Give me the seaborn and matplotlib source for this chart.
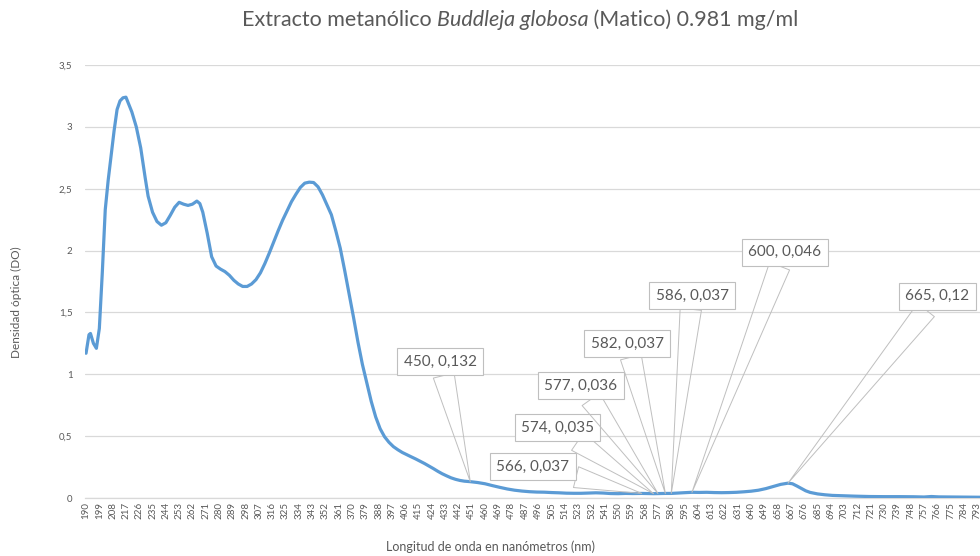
import matplotlib
matplotlib.use("Agg")
import matplotlib.pyplot as plt
import seaborn as sns
import pandas as pd

# ---- data ----
wavelength = [190, 192, 193, 195, 197, 199, 201, 203, 205, 207, 209, 211, 213, 215, 217, 219,
              221, 224, 227, 230, 232, 235, 238, 241, 244, 247, 250, 253, 256, 259, 262, 265,
              267, 269, 272, 275, 278, 281, 284, 287, 290, 293, 296, 299, 302, 305, 308, 311,
              314, 317, 320, 323, 326, 329, 332, 335, 338, 341, 344, 347, 350, 353, 356, 359,
              362, 365, 368, 371, 374, 377, 380, 383, 386, 389, 392, 395, 398, 401, 404, 407,
              410, 413, 416, 419, 422, 425, 428, 431, 434, 437, 440, 443, 446, 450, 455, 460,
              465, 470, 475, 480, 485, 490, 495, 500, 505, 510, 515, 520, 525, 530, 535, 540,
              545, 550, 555, 560, 566, 570, 574, 577, 582, 586, 590, 595, 600, 605, 610, 615,
              620, 625, 630, 635, 640, 645, 650, 655, 660, 665, 668, 671, 674, 677, 680, 685,
              690, 695, 700, 710, 720, 730, 740, 750, 757, 762, 767, 775, 785, 796]
absorbance = [1.17, 1.32, 1.33, 1.25, 1.21, 1.37, 1.82, 2.33, 2.57, 2.77, 2.97, 3.14, 3.21, 3.235, 3.24, 3.18,
              3.12, 3.00, 2.83, 2.59, 2.44, 2.31, 2.235, 2.205, 2.225, 2.285, 2.35, 2.39, 2.375, 2.365, 2.375, 2.40,
              2.38, 2.31, 2.14, 1.95, 1.875, 1.85, 1.83, 1.80, 1.76, 1.73, 1.71, 1.71, 1.73, 1.765, 1.82, 1.895,
              1.98, 2.07, 2.16, 2.245, 2.32, 2.395, 2.455, 2.51, 2.545, 2.553, 2.55, 2.515, 2.45, 2.37, 2.29, 2.16,
              2.02, 1.84, 1.65, 1.46, 1.26, 1.08, 0.93, 0.78, 0.655, 0.56, 0.495, 0.45, 0.415, 0.39, 0.368, 0.35,
              0.333, 0.316, 0.298, 0.279, 0.259, 0.238, 0.216, 0.196, 0.179, 0.163, 0.151, 0.142, 0.136, 0.132, 0.125, 0.115,
              0.10, 0.086, 0.073, 0.063, 0.056, 0.051, 0.048, 0.047, 0.044, 0.042, 0.039, 0.038, 0.038, 0.040, 0.042, 0.040,
              0.036, 0.035, 0.037, 0.036, 0.037, 0.036, 0.035, 0.036, 0.037, 0.037, 0.040, 0.043, 0.046, 0.045, 0.046, 0.044,
              0.043, 0.044, 0.046, 0.050, 0.055, 0.063, 0.076, 0.093, 0.110, 0.120, 0.115, 0.097, 0.077, 0.058, 0.045, 0.033,
              0.026, 0.021, 0.019, 0.015, 0.012, 0.011, 0.011, 0.010, 0.008, 0.012, 0.009, 0.008, 0.007, 0.006]

ann_nm = [450, 566, 574, 577, 582, 586, 600, 665]
ann_val = [0.132, 0.037, 0.035, 0.036, 0.037, 0.037, 0.046, 0.12]

x_tick_labels = list(range(190, 800, 9))
y_ticks = [0, 0.5, 1, 1.5, 2, 2.5, 3, 3.5]

title_parts = ["Extracto metanólico ", "Buddleja globosa", " (Matico) 0.981 mg/ml"]
xlabel = "Longitud de onda en nanómetros (nm)"
ylabel = "Densidad óptica (DO)"

# ---- style ----
sns.set_style("white")
plt.rcParams["font.family"] = ["Lato", "DejaVu Sans"]
GRAY = "#595959"
GRID = "#d9d9d9"
BLUE = "#5B9BD5"

W, H = 980, 556
fig = plt.figure(figsize=(W / 100, H / 100), dpi=100)
ax = fig.add_axes([85 / W, 1 - 498 / H, (W - 85) / W, (498 - 65) / H])

df = pd.DataFrame({"nm": wavelength, "DO": absorbance})
sns.lineplot(data=df, x="nm", y="DO", ax=ax, color=BLUE, linewidth=2.3, zorder=3)

ax.set_xlim(189.3, 794.9)
ax.set_ylim(0, 3.5)
ax.set_yticks(y_ticks)
ax.set_yticklabels([f"{v:g}".replace(".", ",") for v in y_ticks])
ax.set_xticks(x_tick_labels)
ax.set_xticklabels([str(v) for v in x_tick_labels], rotation=90)
ax.tick_params(axis="x", labelsize=7, colors=GRAY, length=0, pad=3)
ax.tick_params(axis="y", labelsize=7, colors=GRAY, length=0, pad=9)
ax.grid(axis="y", color=GRID, linewidth=0.9)
ax.grid(axis="x", visible=False)
for s in ["left", "right", "top"]:
    ax.spines[s].set_visible(False)
ax.spines["bottom"].set_color(GRID)
ax.spines["bottom"].set_linewidth(0.9)
ax.set_xlabel("")
ax.set_ylabel("")

# ---- callouts ----
offsets = [(-30, 120), (-109, 27), (-96, 66), (-77, 108), (-38, 150), (21, 198), (93, 240), (149, 187)]
for nm, val, (dx, dy) in zip(ann_nm, ann_val, offsets):
    txt = f"{nm}, " + f"{val:g}".replace(".", ",")
    ax.annotate(txt, xy=(nm, val), xytext=(dx, dy), textcoords="offset pixels",
                ha="center", va="center", fontsize=11, color=GRAY, zorder=5,
                bbox=dict(boxstyle="square,pad=0.42", fc="white", ec="#bfbfbf", lw=0.8),
                arrowprops=dict(arrowstyle="wedge,tail_width=1.4", fc="none", ec="#bfbfbf",
                                lw=0.7, shrinkA=0, shrinkB=0),
                annotation_clip=False)

# ---- titles ----
fig.text(490 / W, 1 - 547 / H, xlabel, ha="center", va="center", fontsize=9, color=GRAY)
fig.text(16 / W, 1 - 302 / H, ylabel, ha="center", va="center", rotation=90, fontsize=8.5, color=GRAY)

renderer = fig.canvas.get_renderer()
ty = 1 - 20 / H
texts = []
x = 0.0
for i, part in enumerate(title_parts):
    t = fig.text(x, ty, part, ha="left", va="center", fontsize=15.5, color=GRAY,
                 style="italic" if i == 1 else "normal")
    bb = t.get_window_extent(renderer)
    texts.append(t)
    x += bb.width / W
total = x
start = 520 / W - total / 2
x = start
for t in texts:
    bb = t.get_window_extent(renderer)
    t.set_x(x)
    x += bb.width / W

fig.savefig("out.png", dpi=100)
